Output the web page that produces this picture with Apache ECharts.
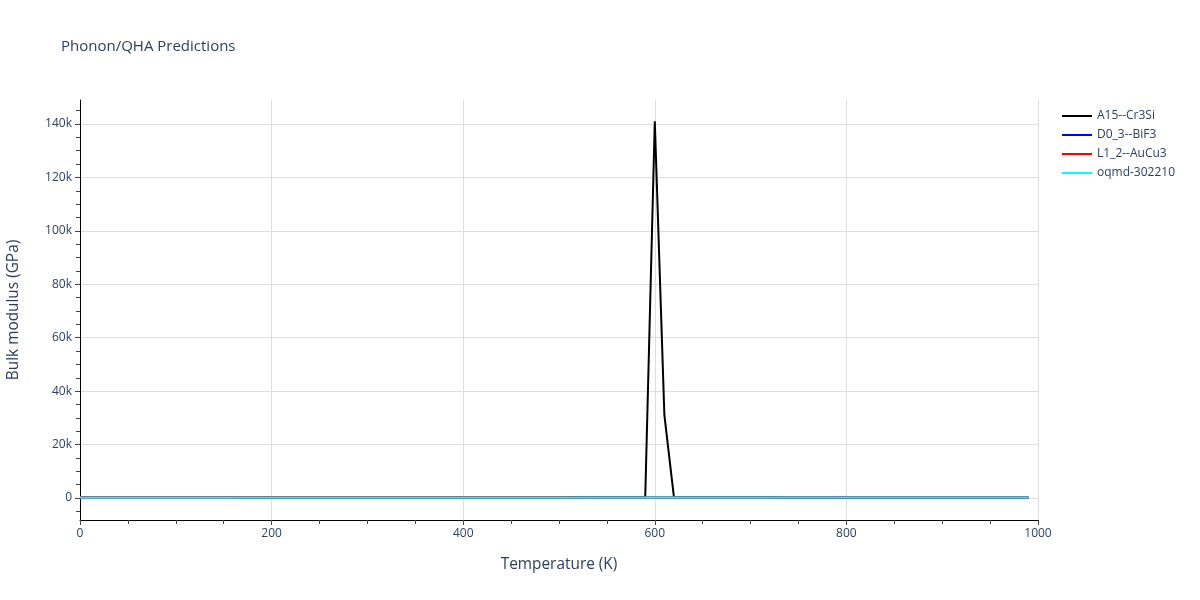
<!DOCTYPE html>
<html>
<head>
<meta charset="utf-8">
<script src="https://cdn.jsdelivr.net/npm/echarts@6/dist/echarts.min.js"></script>
<style>html,body{margin:0;padding:0;background:#fff}#c{width:1200px;height:600px}</style>
</head>
<body>
<div id="c"></div>
<script>
const temps = [0,10,20,30,40,50,60,70,80,90,100,110,120,130,140,150,160,170,180,190,
200,210,220,230,240,250,260,270,280,290,300,310,320,330,340,350,360,370,380,390,
400,410,420,430,440,450,460,470,480,490,500,510,520,530,540,550,560,570,580,590,
600,610,620,630,640,650,660,670,680,690,700,710,720,730,740,750,760,770,780,790,
800,810,820,830,840,850,860,870,880,890,900,910,920,930,940,950,960,970,980,990];

const a15 = [262,262,262,262,261,261,261,260,260,260,259,259,258,258,258,257,257,256,256,256,
255,255,254,254,254,253,253,252,252,252,251,251,250,250,250,249,249,248,248,248,
247,247,246,246,246,245,245,244,244,244,243,243,242,242,241,241,241,240,240,239,
141000,31000,238,238,237,237,236,236,236,235,235,234,234,233,233,233,232,232,231,231,
230,230,230,229,229,228,228,227,227,227,226,226,225,225,224,224,224,223,223,222];

const d03 = [238,238,238,238,237,237,237,237,236,236,236,235,235,235,234,234,234,233,233,233,
232,232,232,231,231,231,230,230,230,229,229,229,228,228,228,227,227,227,226,226,
226,225,225,225,224,224,224,223,223,223,222,222,222,221,221,221,220,220,220,219,
219,219,218,218,218,217,217,217,216,216,216,215,215,215,214,214,214,213,213,213,
212,212,212,211,211,211,210,210,210,209,209,209,208,208,208,207,207,207,206,206];

const l12 = [250,250,250,250,249,249,249,248,248,248,247,247,247,246,246,246,245,245,245,244,
244,244,243,243,243,242,242,242,241,241,241,240,240,240,239,239,239,238,238,238,
237,237,237,236,236,236,235,235,235,234,234,234,233,233,233,232,232,232,231,231,
231,230,230,230,229,229,229,228,228,228,227,227,227,226,226,226,225,225,225,224,
224,224,223,223,223,222,222,222,221,221,221,220,220,220,219,219,219,218,218,218];

const oqmd = [180,180,180,180,180,179,179,179,179,178,178,178,178,177,177,177,177,176,176,176,
176,175,175,175,175,174,174,174,174,173,173,173,173,172,172,172,172,171,171,171,
171,170,170,170,170,169,169,169,169,168,168,168,168,167,167,167,167,166,166,166,
166,165,165,165,165,164,164,164,164,163,163,163,163,162,162,162,162,161,161,161,
161,160,160,160,160,159,159,159,159,158,158,158,158,157,157,157,157,156,156,156];

const seriesNames = ['A15--Cr3Si','D0_3--BiF3','L1_2--AuCu3','oqmd-302210'];
const seriesColors = ['#000000','#0000ff','#ff0000','#00ffff'];
const seriesValues = [a15, d03, l12, oqmd];
const yTickValues = [0,20000,40000,60000,80000,100000,120000,140000];
const yMinorTickValues = [-5000,5000,10000,15000,25000,30000,35000,45000,50000,55000,65000,70000,75000,
  85000,90000,95000,105000,110000,115000,125000,130000,135000,145000];
const yMin = -8236, yMax = 148986;

const font = '"Open Sans", "Liberation Sans", sans-serif';
const txt = '#2a3f5f';

const chart = echarts.init(document.getElementById('c'), null, {renderer:'canvas'});
const yBase = {type:'value', min:yMin, max:yMax, gridIndex:0};
chart.setOption({
  animation:false,
  backgroundColor:'#fff',
  title:{text:'Phonon/QHA Predictions', left:56, top:34,
    textStyle:{fontFamily:font, fontSize:15, fontWeight:'normal', color:txt}},
  legend:{orient:'vertical', left:1057, top:105, icon:'rect', itemWidth:30, itemHeight:2, itemGap:7,
    textStyle:{fontFamily:font, fontSize:12, color:txt}, data:seriesNames},
  grid:{left:80, right:162, top:100, bottom:80, containLabel:false, outerBoundsMode:'none'},
  xAxis:{type:'value', min:0, max:1000, interval:200,
    name:'Temperature (K)', nameLocation:'middle', nameGap:37,
    nameTextStyle:{fontFamily:font, fontSize:15.4, color:txt},
    axisLine:{show:true, onZero:false, lineStyle:{color:'#000', width:1}},
    axisTick:{show:true, inside:false, length:5, lineStyle:{color:'#444'}},
    minorTick:{show:true, splitNumber:4, length:4, lineStyle:{color:'#444'}},
    axisLabel:{fontFamily:font, fontSize:12, color:txt, margin:8, formatter:v => String(v)},
    splitLine:{show:true, lineStyle:{color:'#dedede', width:1}}},
  yAxis:[
    Object.assign({}, yBase, {
      name:'Bulk modulus (GPa)', nameLocation:'middle', nameGap:59,
      nameTextStyle:{fontFamily:font, fontSize:15.4, color:txt},
      axisLine:{show:true, onZero:false, lineStyle:{color:'#000', width:1}},
      axisTick:{show:true, inside:false, length:5, customValues:yTickValues, lineStyle:{color:'#444'}},
      axisLabel:{fontFamily:font, fontSize:12, color:txt, margin:8, customValues:yTickValues,
        formatter:v => v===0 ? '0' : (v/1000)+'k'},
      splitLine:{show:true, lineStyle:{color:'#dedede', width:1}}}),
    Object.assign({}, yBase, {
      position:'left',
      axisLine:{show:false},
      axisTick:{show:true, inside:false, length:4, customValues:yMinorTickValues, lineStyle:{color:'#444'}},
      axisLabel:{show:false, customValues:yMinorTickValues},
      splitLine:{show:false}})
  ],
  series: seriesNames.map((n,i)=>({
    name:n, type:'line', showSymbol:false, symbol:'none', yAxisIndex:0,
    color:seriesColors[i],
    lineStyle:{width:2, color:seriesColors[i]},
    data: temps.map((t,j)=>[t, seriesValues[i][j]])
  }))
});
</script>
</body>
</html>
